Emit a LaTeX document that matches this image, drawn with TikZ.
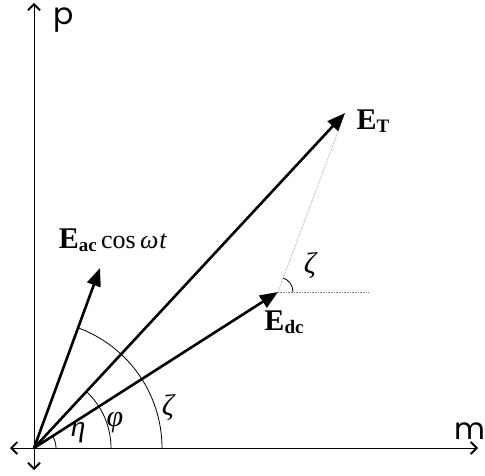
\documentclass[tikz,border=0pt]{standalone}
\usepackage{fontspec}
\setmainfont{Liberation Serif}
\newfontfamily\axfont{Poppins}
\usetikzlibrary{arrows.meta}
\begin{document}
\begin{tikzpicture}[x=1pt,y=1pt,
  axis/.style={line width=1pt,{Straight Barb[length=6pt,width=12pt,line width=1.8pt]}-{Straight Barb[length=6pt,width=12pt,line width=1.8pt]}},
  vec/.style={line width=2.6pt,-{Triangle[length=18pt,width=14pt]}},
  angarc/.style={line width=0.8pt},
  dotl/.style={line width=0.6pt,densely dotted,gray},
  lab/.style={font=\fontsize{30}{34}\selectfont,inner sep=0pt},
  glab/.style={font=\itshape\fontsize{30}{34}\selectfont,inner sep=0pt},
  axlab/.style={font=\axfont\fontsize{30}{34}\selectfont,inner sep=0pt}]
\useasboundingbox (0,0) rectangle (485,475);
\coordinate (O) at (34,27);
\coordinate (ytop) at (34,472);
\coordinate (ybot) at (34,5);
\coordinate (xleft) at (10,27);
\coordinate (xright) at (478,27);
\coordinate (Edc) at (278,183);
\coordinate (ET) at (345,362);
\coordinate (Eac) at (100,207);
\coordinate (hz) at (368,183);
% axes
\draw[axis] (ybot) -- (ytop);
\draw[axis] (xleft) -- (xright);
% dotted construction lines
\draw[dotl] (Edc) -- (ET);
\draw[dotl] (Edc) -- (hz);
% angle arcs
\draw[angarc] ([shift={(0:22)}]O) arc[start angle=0,end angle=32.6,radius=22];
\draw[angarc] ([shift={(0:77)}]O) arc[start angle=0,end angle=47.1,radius=77];
\draw[angarc] ([shift={(0:128)}]O) arc[start angle=0,end angle=69.9,radius=128];
\draw[angarc] ([shift={(0:15)}]Edc) arc[start angle=0,end angle=69.7,radius=15];
% vectors
\draw[vec] (O) -- (Edc);
\draw[vec] (O) -- (ET);
\draw[vec] (O) -- (Eac);
% labels
\node[axlab] (plab) at (64,455) {p};
\node[axlab] (mlab) at (470,44) {m};
\node[lab] (ETl) at (373,354) {\textbf{E\raisebox{-0.25ex}{\fontsize{19}{22}\selectfont T}}};
\node[lab] (Edcl) at (284,153) {\textbf{E\raisebox{-0.25ex}{\fontsize{19}{22}\selectfont dc}}};
\node[lab] (Eacl) at (113,235) {\textbf{E\raisebox{-0.25ex}{\fontsize{19}{22}\selectfont ac}}{\fontsize{26}{30}\selectfont\,cos\,\textit{ω}\kern1pt\textit{t}}};
\node[glab] (z1) at (310,209) {ζ};
\node[glab] (z2) at (168,67) {ζ};
\node[glab] (phi) at (115,52) {φ};
\node[glab] (eta) at (78,42) {η};
\end{tikzpicture}
\end{document}
